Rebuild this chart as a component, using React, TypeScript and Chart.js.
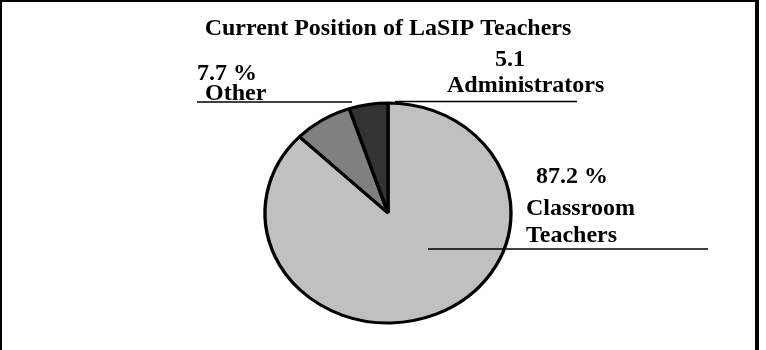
import React, { useEffect, useRef } from "react";
import { Chart, registerables } from "chart.js";

Chart.register(...registerables);

const categories = ["Classroom Teachers", "Other", "Administrators"];
const values = [87.2, 7.7, 5.1];
const valueTexts = ["87.2 %", "7.7 %", "5.1"];
const colors = ["#c0c0c0", "#808080", "#333333"];
const chartTitle = "Current Position of LaSIP Teachers";

const FONT = '"Liberation Serif", "Times New Roman", serif';
const RADIUS = 110;
const SCALE_X = 123 / 110;

const ellipsePlugin = {
  id: "ellipse",
  beforeDatasetsDraw(chart: any) {
    const arc = chart.getDatasetMeta(0).data[0];
    const ctx = chart.ctx;
    ctx.save();
    ctx.translate(arc.x, arc.y);
    ctx.scale(SCALE_X, 1);
    ctx.translate(-arc.x, -arc.y);
  },
  afterDatasetsDraw(chart: any) {
    chart.ctx.restore();
  },
};

const labelPlugin = {
  id: "labels",
  afterDraw(chart: any) {
    const ctx = chart.ctx;
    ctx.save();
    ctx.fillStyle = "#000";
    ctx.font = `bold 24px ${FONT}`;
    ctx.textBaseline = "alphabetic";
    ctx.textAlign = "left";
    // Classroom Teachers
    ctx.fillText(valueTexts[0], 536, 183);
    const words0 = categories[0].split(" ");
    ctx.fillText(words0[0], 526, 215);
    ctx.fillText(words0[1], 526, 242);
    // Other
    ctx.fillText(valueTexts[1], 197, 80);
    ctx.fillText(categories[1], 205, 100);
    // Administrators
    ctx.fillText(valueTexts[2], 495, 66);
    ctx.fillText(categories[2], 447, 92);

    ctx.strokeStyle = "#000";
    ctx.lineWidth = 1.5;
    const lines = [
      [428, 249, 708, 249],
      [197, 102, 352, 102],
      [395, 101.5, 577, 101.5],
    ];
    for (const [x1, y1, x2, y2] of lines) {
      ctx.beginPath();
      ctx.moveTo(x1, y1);
      ctx.lineTo(x2, y2);
      ctx.stroke();
    }

    // outer frame
    ctx.fillStyle = "#000";
    ctx.fillRect(0, 0, 2, 350);
    ctx.fillRect(0, 0, 759, 2);
    ctx.fillRect(755, 0, 4, 350);
    ctx.restore();
  },
};

export default function App() {
  const canvasRef = useRef<HTMLCanvasElement | null>(null);

  useEffect(() => {
    document.body.style.margin = "0";
    const canvas = canvasRef.current;
    if (!canvas) return;
    const chart = new Chart(canvas, {
      type: "pie",
      data: {
        labels: categories,
        datasets: [
          {
            data: values,
            backgroundColor: colors,
            borderColor: "#000",
            borderWidth: 3,
          },
        ],
      },
      options: {
        responsive: false,
        animation: false,
        radius: RADIUS,
        layout: { padding: { left: 178, right: 168, top: 0, bottom: 27 } },
        plugins: {
          legend: { display: false },
          tooltip: { enabled: false },
          title: {
            display: true,
            text: chartTitle,
            color: "#000",
            font: { family: FONT, size: 24, weight: "bold" },
            padding: { top: 14, bottom: 60.2 },
          },
        },
      } as any,
      plugins: [ellipsePlugin, labelPlugin],
    });
    return () => chart.destroy();
  }, []);

  return (
    <div style={{ width: 766, height: 350, background: "#fff" }}>
      <canvas ref={canvasRef} width={766} height={350} style={{ display: "block" }} />
    </div>
  );
}
